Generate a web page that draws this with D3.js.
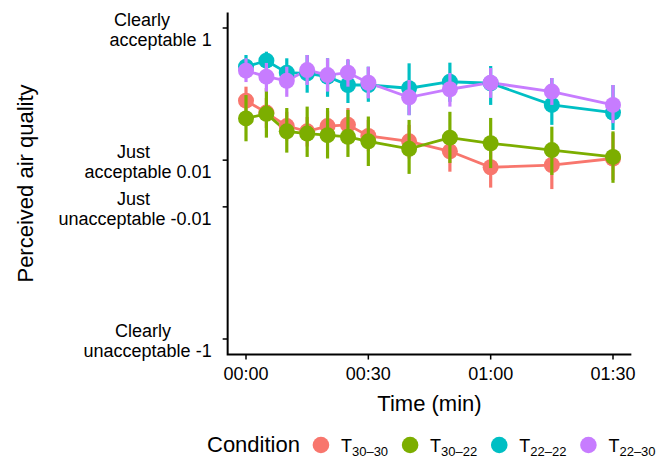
<!DOCTYPE html>
<html>
<head>
<meta charset="utf-8">
<script src="https://cdn.jsdelivr.net/npm/d3@7"></script>
<style>
  body { margin: 0; background: #fff; }
  text { font-family: "Liberation Sans", Arial, sans-serif; fill: #000; }
</style>
</head>
<body>
<svg id="drawing_region"></svg>
<script>
// time points (min) and condition subscripts
const times = [0, 5, 10, 15, 20, 25, 30, 40, 50, 60, 75, 90];
const conditions = ["30–30", "30–22", "22–22", "22–30"];
const colors = ["#F8766D", "#7CAE00", "#00BFC4", "#C77CFF"];

// means and interval ends
const mean_30_30 = [0.107, 0.072, 0.045, 0.037, 0.045, 0.047, 0.031, 0.025, 0.016, 0.0062, 0.0073, 0.011];
const lo_30_30   = [0.066, 0.042, 0.026, 0.020, 0.025, 0.024, 0.016, 0.011, 0.0042, -0.0013, -0.0018, 0.0011];
const hi_30_30   = [0.167, 0.117, 0.074, 0.062, 0.076, 0.084, 0.056, 0.047, 0.039, 0.020, 0.023, 0.035];

const mean_30_22 = [0.059, 0.069, 0.037, 0.034, 0.032, 0.030, 0.025, 0.018, 0.029, 0.023, 0.017, 0.012];
const lo_30_22   = [0.025, 0.029, 0.015, 0.012, 0.011, 0.012, 0.0068, 0.0033, 0.0084, 0.0058, 0.0029, 0.0002];
const hi_30_22   = [0.128, 0.160, 0.084, 0.088, 0.084, 0.079, 0.063, 0.056, 0.074, 0.060, 0.044, 0.037];

const mean_22_22 = [0.310, 0.373, 0.258, 0.253, 0.228, 0.176, 0.176, 0.159, 0.195, 0.186, 0.093, 0.072];
const lo_22_22   = [0.226, 0.280, 0.167, 0.138, 0.121, 0.099, 0.103, 0.066, 0.103, 0.093, 0.047, 0.039];
const hi_22_22   = [0.443, 0.490, 0.401, 0.443, 0.401, 0.381, 0.310, 0.344, 0.351, 0.317, 0.219, 0.176];

const mean_22_30 = [0.275, 0.228, 0.201, 0.280, 0.240, 0.258, 0.189, 0.119, 0.154, 0.189, 0.143, 0.093];
const lo_22_30   = [0.193, 0.143, 0.121, 0.176, 0.143, 0.167, 0.115, 0.066, 0.088, 0.117, 0.093, 0.050];
const hi_22_30   = [0.401, 0.348, 0.310, 0.443, 0.401, 0.393, 0.310, 0.206, 0.256, 0.298, 0.219, 0.176];

// axis ticks
const yTicks = [1, 0.01, -0.01, -1];
const yTickWords = [["Clearly", "acceptable"], ["Just", "acceptable"], ["Just", "unacceptable"], ["Clearly", "unacceptable"]];
const xTicks = [0, 30, 60, 90];
const xTickLabels = ["00:00", "00:30", "01:00", "01:30"];

const series = [
  {sub: conditions[0], mean: mean_30_30, lo: lo_30_30, hi: hi_30_30},
  {sub: conditions[1], mean: mean_30_22, lo: lo_30_22, hi: hi_30_22},
  {sub: conditions[2], mean: mean_22_22, lo: lo_22_22, hi: hi_22_22},
  {sub: conditions[3], mean: mean_22_30, lo: lo_22_30, hi: hi_22_30}
];

const width = 667, height = 459;
const svg = d3.select('#drawing_region')
    .attr('width', width)
    .attr('height', height);

const xscale = d3.scaleLinear().domain([0, 90]).range([246, 613]);
const yscale = d3.scaleSymlog().constant(0.01).domain([-1, 1]).range([339, 28]);

// panel limits with ggplot-style 5% expansion
const xspan = xscale(90) - xscale(0);
const yspan = yscale(-1) - yscale(1);
const pLeft = xscale(0) - 0.05 * xspan, pRight = xscale(90) + 0.05 * xspan;
const pTop = yscale(1) - 0.05 * yspan, pBottom = yscale(-1) + 0.05 * yspan;

// axes lines
svg.append('path')
    .attr('d', `M${pLeft},${pTop}V${pBottom}H${pRight}`)
    .attr('fill', 'none').attr('stroke', '#000').attr('stroke-width', 2);

// y ticks + two-line labels
const line1Right = [170, 150, 150, 171];
yTicks.forEach((v, i) => {
  const y = yscale(v);
  svg.append('line').attr('x1', pLeft - 5).attr('x2', pLeft).attr('y1', y).attr('y2', y)
      .attr('stroke', '#000').attr('stroke-width', 1.5);
  svg.append('text').attr('x', line1Right[i]).attr('y', y - 2)
      .attr('text-anchor', 'end').attr('font-size', 18).text(yTickWords[i][0]);
  svg.append('text').attr('x', pLeft - 16).attr('y', y + 18)
      .attr('text-anchor', 'end').attr('font-size', 18)
      .text(yTickWords[i][1] + " " + v);
});

// x ticks
xTicks.forEach((v, i) => {
  const x = xscale(v);
  svg.append('line').attr('x1', x).attr('x2', x).attr('y1', pBottom).attr('y2', pBottom + 5)
      .attr('stroke', '#000').attr('stroke-width', 1.5);
  svg.append('text').attr('x', x).attr('y', pBottom + 25)
      .attr('text-anchor', 'middle').attr('font-size', 18).text(xTickLabels[i]);
});

// axis titles
svg.append('text')
    .attr('x', (pLeft + pRight) / 2).attr('y', 411)
    .attr('text-anchor', 'middle').attr('font-size', 22).text("Time (min)");
svg.append('text')
    .attr('transform', `translate(33, ${(pTop + pBottom) / 2}) rotate(-90)`)
    .attr('text-anchor', 'middle').attr('font-size', 22).text("Perceived air quality");

// lines
const line = d3.line().x((d, i) => xscale(times[i])).y(d => yscale(d));
series.forEach((s, k) => {
  svg.append('path').datum(s.mean)
      .attr('d', line)
      .attr('fill', 'none').attr('stroke', colors[k]).attr('stroke-width', 2.8);
});

// error bars + points, group by group
series.forEach((s, k) => {
  const g = svg.append('g');
  g.selectAll('line').data(times).enter().append('line')
      .attr('x1', d => xscale(d)).attr('x2', d => xscale(d))
      .attr('y1', (d, i) => yscale(s.lo[i])).attr('y2', (d, i) => yscale(s.hi[i]))
      .attr('stroke', colors[k]).attr('stroke-width', 3.2);
  g.selectAll('circle').data(times).enter().append('circle')
      .attr('cx', d => xscale(d)).attr('cy', (d, i) => yscale(s.mean[i]))
      .attr('r', 8).attr('fill', colors[k]);
});

// legend
const legend = svg.append('g');
const ltitle = legend.append('text').attr('x', 207).attr('y', 452)
    .attr('font-size', 22).text("Condition");
let lx = 207 + ltitle.node().getComputedTextLength() + 21;
series.forEach((s, k) => {
  legend.append('circle').attr('cx', lx).attr('cy', 445).attr('r', 8.3).attr('fill', colors[k]);
  const t = legend.append('text').attr('x', lx + 20).attr('y', 452).attr('font-size', 18);
  t.append('tspan').text("T");
  t.append('tspan').attr('font-size', 13).attr('dy', 4).text(s.sub);
  lx += 20 + t.node().getComputedTextLength() + 22;
});
</script>
</body>
</html>
